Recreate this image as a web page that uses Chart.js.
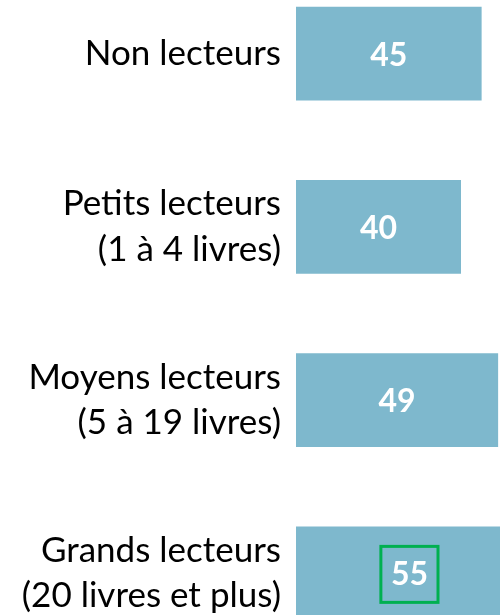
<!DOCTYPE html>
<html>
<head>
<meta charset="utf-8">
<script src="https://cdn.jsdelivr.net/npm/chart.js@4.4.1/dist/chart.umd.min.js"></script>
<style>
  html, body { margin: 0; padding: 0; background: #fff; overflow: hidden; }
  #wrap { position: relative; width: 500px; height: 615px; overflow: hidden; }
  #bar-chart { position: absolute; left: 0; top: -33px; }
</style>
</head>
<body>
<div id="wrap">
  <canvas id="bar-chart" width="560" height="693"></canvas>
</div>
<script>
var categories = [
    ['Non lecteurs'],
    ['Petits lecteurs', '(1 à 4 livres)'],
    ['Moyens lecteurs', '(5 à 19 livres)'],
    ['Grands lecteurs', '(20 livres et plus)']
];
var values = [45, 40, 49, 55];
var highlighted = [3];   // index of the bar whose value gets a green frame

var barColor = '#7eb8cd';
var frameColor = '#00b050';

// writes the value in the middle of each bar, framed if highlighted
var valueLabels = {
    id: 'valueLabels',
    afterDatasetsDraw: function (chart)
    {
        var ctx = chart.ctx;
        var meta = chart.getDatasetMeta(0);
        ctx.save();
        ctx.font = 'bold 32px Lato';
        ctx.fillStyle = '#ffffff';
        ctx.textAlign = 'center';
        ctx.textBaseline = 'alphabetic';
        meta.data.forEach(function (bar, i)
        {
            var cx = (bar.x + bar.base) / 2;
            var txt = String(values[i]);
            // digits are ~23px tall, so put the baseline half of that below centre
            ctx.fillText(txt, cx, bar.y + 12);
            if (highlighted.indexOf(i) >= 0)
            {
                var w = ctx.measureText(txt).width + 20;
                var h = 56;
                ctx.strokeStyle = frameColor;
                ctx.lineWidth = 3;
                ctx.strokeRect(cx - w / 2, bar.y + 1 - h / 2, w, h);
            }
        });
        ctx.restore();
    }
};

var m_chart = new Chart(document.getElementById('bar-chart'), {
    type: 'bar',
    data: {
        labels: categories,
        datasets: [{
            data: values,
            backgroundColor: barColor,
            borderWidth: 0,
            categoryPercentage: 0.54,
            barPercentage: 1
        }]
    },
    options: {
        indexAxis: 'y',
        responsive: false,
        animation: false,
        layout: { padding: 0 },
        plugins: {
            legend: { display: false },
            tooltip: { enabled: false }
        },
        scales: {
            x: {
                display: false,
                min: 0,
                max: 64
            },
            y: {
                border: { display: false },
                grid: { display: false, drawTicks: false },
                ticks: {
                    padding: 15,
                    color: '#000000',
                    font: { family: 'Lato', size: 35, lineHeight: 1.3 }
                },
                afterFit: function (scale)
                {
                    // fixed label column, no extra room above/below the bars
                    scale.width = 296;
                    scale.paddingTop = 0;
                    scale.paddingBottom = 0;
                }
            }
        }
    },
    plugins: [valueLabels]
});
</script>
</body>
</html>
